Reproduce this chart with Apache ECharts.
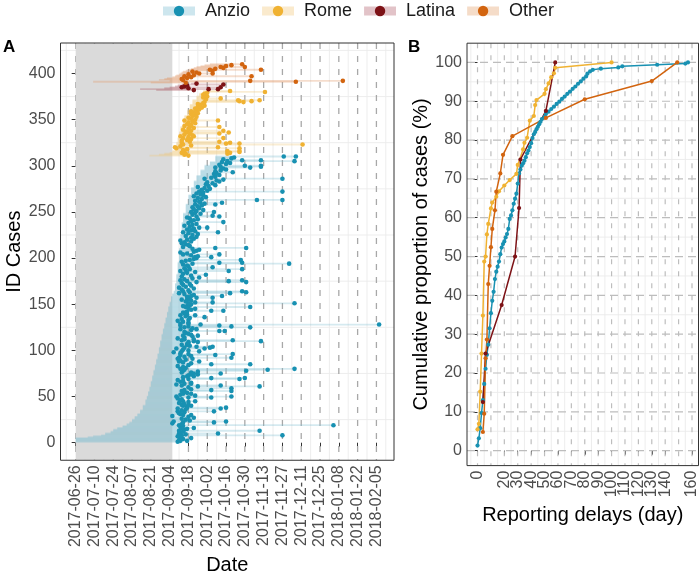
<!DOCTYPE html>
<html>
<head>
<meta charset="utf-8">
<script src="https://cdn.jsdelivr.net/npm/echarts@6.0.0/dist/echarts.min.js"></script>
<style>
html,body{margin:0;padding:0;background:#ffffff;}
#chart{width:700px;height:580px;}
</style>
</head>
<body>
<div id="chart"></div>
<script>
// ================= DATA =================
// Panel A: days counted from dateOrigin
const dateOrigin = '2017-06-26';
const dateTickLabels = ['2017-06-26','2017-07-10','2017-07-24','2017-08-07','2017-08-21','2017-09-04','2017-09-18','2017-10-02','2017-10-16','2017-10-30','2017-11-13','2017-11-27','2017-12-11','2017-12-25','2018-01-08','2018-01-22','2018-02-05'];
const caseTickLabels = [0,50,100,150,200,250,300,350,400];
const shadedPeriod = ['2017-06-26','2017-09-06'];

// Anzio: symptom-onset day histogram (day offset, number of cases)
const anzioOnsetDay = [0,9,13,19,22,26,28,31,35,38,40,42,44,46,48,50,52,53,54,55,56,57,58,59,60,61,62,63,64,65,66,67,68,69,70,71,72,73,74,75,76,77,78,79,80,82,84,86,88,90,93,96,100,104];
const anzioOnsetCount = [5,1,1,1,2,2,2,2,2,2,2,3,3,3,4,5,6,4,5,5,6,6,6,6,6,6,7,7,7,6,6,6,6,6,5,6,3,3,8,10,13,15,15,13,10,10,10,8,7,6,6,5,4,6];
// Anzio: first and second dot day per case (0 = none)
const anzioDot1 = [
76,78,77,80,79,78,76,79,82,77, 78,80,77,81,83,79,78,80,77,79, 72,80,73,85,82,79,88,84,72,80,
78,77,81,76,79,82,76,83,83,80, 79,81,77,84,80,78,79,76,84,75, 89,78,80,83,81,79,81,86,116,84,
91,79,75,81,86,78,80,76,84,101, 80,83,84,86,88,79,91,80,81,78, 82,80,76,84,101,86,80,77,78,82,
76,77,81,86,78,84,78,73,79,84, 80,75,81,90,85,79,83,84,84,88, 79,81,76,81,87,80,86,84,82,81,
107,86,78,87,81,84,78,93,78,84, 80,76,84,79,85,96,82,78,83,81, 80,83,101,86,89,84,82,80,85,86,
84,89,82,86,79,85,90,83,86,88, 81,77,85,80,84,79,88,77,82,86, 80,85,79,90,83,78,81,87,92,79,
86,97,80,83,89,78,82,85,81,102, 84,83,80,87,107,79,82,85,88,90, 89,91,86,80,83,78,88,90,92,87,
104,80,85,84,82,79,81,86,78,83, 88,86,90,82,87,91,84,80,89,86, 83,88,92,85,81,87,90,84,110,86,
88,91,85,83,90,102,87,93,89,86, 90,95,88,92,87,91,94,89,96,93, 92,89,135,94,91,97,88,95,93,90,
95,92,98,94,100,96,91,99,104,97, 102,98,107,105,110,96,101,104,104,107, 103,105,117,104,108,112,110,104,108,126,
107,112,115,109,113,124,110,116,118,155];
const anzioDot2 = [
0,83,0,0,86,0,0,154,0,106, 0,0,137,0,0,88,0,0,192,0, 0,103,112,0,0,0,0,0,0,86,
0,0,0,103,0,0,108,112,0,86, 84,0,0,0,89,0,0,0,101,116, 0,0,86,0,0,116,101,0,0,0,
137,108,0,86,0,0,0,0,122,126, 0,88,0,91,108,86,0,127,143,163, 0,0,0,0,130,0,0,92,0,0,
87,116,0,0,104,117,0,0,92,0, 0,96,100,102,0,83,0,0,91,138, 117,88,0,0,0,91,0,0,0,0,
111,0,90,0,130,116,107,226,84,0, 0,0,0,0,0,0,0,89,0,0, 82,0,110,0,0,0,130,83,0,0,
163,102,0,0,83,0,102,0,109,0, 0,115,127,124,0,0,0,0,0,0, 0,0,0,127,114,124,0,0,0,0,
0,0,0,0,0,114,0,124,0,0, 0,0,0,159,124,0,0,123,0,0, 101,0,0,107,0,0,0,0,0,0,
127,0,0,0,0,0,0,0,0,0, 0,0,0,0,0,0,0,106,0,0, 0,0,98,0,0,0,0,0,0,0,
0,0,0,0,107,0,0,0,0,103, 0,0,0,0,0,0,0,104,0,109, 0,0,154,0,0,0,0,0,0,0,
0,154,0,0,0,0,0,0,0,0, 0,0,0,0,0,154,0,0,0,0, 0,0,0,0,0,0,0,130,138,138,
0,0,0,0,163,138,0,0,0,164];

// Rome
const romeOnset = [55,62,66,70,72,72,74,74,74,74, 75,75,75,75,75,76,76,76,76,76, 77,77,77,77,77,77,78,78,78,78,
78,78,80,80,80,80,80,80,81,81, 81,81,81,81,83,83,83,83,83,83, 85,85,85,85,85,85,87,87,87,87, 87,90,90,90,90,92,92,92,95,95,95];
const romeDot1 = [84,81,82,79,81,113,80,83,75,74, 78,86,80,112,79,85,79,83,86,80, 84,78,87,81,85,83,82,86,80,84,
88,85,81,86,83,89,84,87,81,89, 86,84,90,87,89,86,91,88,86,90, 92,89,94,91,96,93,91,95,96,122, 121,97,108,95,98,97,95,96,98,141,115];
const romeDot2 = [0,0,113,115,122,122,0,0,122,106, 0,0,169,122,115,107,0,0,0,110, 0,88,0,0,107,114,0,110,0,0,
0,107,0,0,0,0,0,0,106,0, 0,0,0,0,0,0,0,0,0,0, 0,0,0,0,0,0,0,0,125,131, 137,0,0,0,0,0,0,0,0,0,0];

// Latina
const latinaOnset = [60,48,66,70,74,76,79,86];
const latinaDot1 = [88,99,84,79,81,83,110,90];
const latinaDot2 = [0,106,0,108,0,0,0,0];

// Other
const otherOnset = [56,13,70,62,66,68,72,74,75,77,78,79,80,82,84,86,88,90,93,96,100];
const otherDot1 = [82,164,130,80,79,83,86,81,88,84,92,90,87,102,100,104,110,108,112,116,124];
const otherDot2 = [0,0,199,0,0,0,0,131,0,0,102,0,0,0,138,0,0,126,0,0,0];

// Panel B: cumulative proportion (%) by reporting delay (days)
const delayTickLabels = [0,10,20,30,40,50,60,70,80,90,100,110,120,130,140,150,160];
const pctTickLabels = [0,10,20,30,40,50,60,70,80,90,100];
const anzioDelay = [0,1,2,3,4,5,6,7,8,9,10,11,12,13,14,15,16,17,18,19,20,21,22,23,24,25,26,27,28,29,30,31,32,33,34,35,36,37,38,39,40,41,42,43,44,45,46,47,48,50,51,53,55,57,59,61,63,65,67,69,71,73,75,77,79,81,82,84,86,92,105,108,134,155,157];
const anzioCum = [1.3,3.2,5.8,9.7,13.0,17.2,21.1,24.7,27.3,31.5,35.4,38.6,40.9,44.2,46.1,47.4,48.7,50.6,52.3,53.2,53.9,54.9,55.8,57.1,59.7,60.6,61.9,63.6,64.9,66.2,68.8,71.4,72.4,73.4,74.0,74.7,75.6,76.6,77.3,78.2,79.2,80.5,81.5,82.1,82.8,83.4,84.1,84.7,85.4,86.0,86.7,87.3,88.0,88.6,89.3,89.9,90.6,91.2,91.9,92.5,93.2,93.8,94.5,95.1,95.8,96.4,97.1,97.7,98.1,98.4,98.7,99.0,99.4,99.7,100];
const romeDelay = [0,1,2,3,4,5,6,7,8,10,11,14,16,20,24,29,30,34,35,37,39,42,43,44,50,51,53,55,57,58,100];
const romeCum = [5.5,6.9,15.2,25.0,34.8,48.7,50.0,55.7,58.4,62.4,63.9,65.4,66.8,68.3,69.7,71.3,73.6,77.6,79.3,80.6,85.0,86.2,89.0,90.3,91.9,93.1,94.6,96.2,97.2,98.6,100];
const latinaDelay = [4,6,18,28,31,32,51,58];
const latinaCum = [12.5,25,37.5,50,62.5,75,87.5,100];
const otherDelay = [4,5,6,7,8,9,10,11,13,14,17,19,26,51,80,130,149];
const otherCum = [4.8,9.5,23.8,28.6,42.9,47.6,52.4,57.1,61.9,66.7,71.4,76.2,81.0,85.7,90.5,95.2,100];

// ================= BUILD =================
const FONT = 'Liberation Sans, Arial, Helvetica, sans-serif';
const DAY = 86400000;
const toDay = s => Math.round((Date.parse(s) - Date.parse(dateOrigin)) / DAY);
const tickDays = dateTickLabels.map(toDay);
const minorDays = [-7].concat(tickDays.map(d => d + 7));
const caseMinor = caseTickLabels.map(v => v + 25);
const delayMinor = [-5].concat(delayTickLabels.slice(0, -1).map(v => v + 5));
const pctMinor = pctTickLabels.slice(0, -1).map(v => v + 5);

function expand(days, counts) {
  const out = [];
  days.forEach((d, i) => { for (let k = 0; k < counts[i]; k++) out.push(d); });
  return out;
}

const groups = [
  {name:'Anzio',  onset: expand(anzioOnsetDay, anzioOnsetCount), d1: anzioDot1, d2: anzioDot2,
   delay: anzioDelay, cum: anzioCum, dot:'#1891b2', bar:'rgba(124,190,207,0.32)', pale:'#cde6ee'},
  {name:'Rome',   onset: romeOnset, d1: romeDot1, d2: romeDot2,
   delay: romeDelay, cum: romeCum, dot:'#f0b232', bar:'rgba(240,200,120,0.32)', pale:'#faeacd'},
  {name:'Latina', onset: latinaOnset, d1: latinaDot1, d2: latinaDot2,
   delay: latinaDelay, cum: latinaCum, dot:'#7d1216', bar:'rgba(170,90,100,0.32)', pale:'#e2c3c8'},
  {name:'Other',  onset: otherOnset, d1: otherDot1, d2: otherDot2,
   delay: otherDelay, cum: otherCum, dot:'#d2640f', bar:'rgba(225,150,100,0.32)', pale:'#f5dcc8'}
];

let caseId = 0;
groups.forEach(g => {
  g.bars = []; g.dots = [];
  g.onset.forEach((o, i) => {
    caseId++;
    const end = Math.max(g.d1[i], g.d2[i] || 0);
    g.bars.push([o, end, caseId]);
    g.dots.push([g.d1[i], caseId]);
    if (g.d2[i]) g.dots.push([g.d2[i], caseId]);
  });
});

function vLines(idx, values, style, z) {
  return {type:'custom', xAxisIndex: idx, yAxisIndex: idx, silent: true, z, clip: true,
    data: values.map(v => [v, 0]), encode: {x: 0, y: 1},
    renderItem: (p, api) => {
      const cs = p.coordSys; const x = api.coord([api.value(0), 0])[0];
      return {type:'line', shape:{x1:x, y1:cs.y, x2:x, y2:cs.y + cs.height}, style: Object.assign({fill:null}, style)};
    }};
}
function hLines(idx, values, style, z) {
  return {type:'custom', xAxisIndex: idx, yAxisIndex: idx, silent: true, z, clip: true,
    data: values.map(v => [0, v]), encode: {x: 0, y: 1},
    renderItem: (p, api) => {
      const cs = p.coordSys; const y = api.coord([0, api.value(1)])[1];
      return {type:'line', shape:{x1:cs.x, y1:y, x2:cs.x + cs.width, y2:y}, style: Object.assign({fill:null}, style)};
    }};
}

function keyIcon(pale, dot) {
  const svg = '<svg xmlns="http://www.w3.org/2000/svg" width="32" height="13">' +
    '<rect x="0" y="2" width="32" height="9" fill="' + pale + '"/>' +
    '<circle cx="16" cy="6.5" r="5.2" fill="' + dot + '"/></svg>';
  return 'image://data:image/svg+xml;charset=utf-8,' + encodeURIComponent(svg);
}

const series = [];
// Panel A grid lines
series.push(vLines(0, minorDays, {stroke:'#ebebeb', lineWidth:0.9}, 1));
series.push(hLines(0, caseMinor, {stroke:'#ebebeb', lineWidth:0.9}, 1));
series.push(vLines(0, tickDays, {stroke:'#a8a8a8', lineWidth:1.3, lineDash:[6,7]}, 1));
// shaded period
series.push({type:'custom', xAxisIndex:0, yAxisIndex:0, silent:true, z:2, clip:true,
  data: [[toDay(shadedPeriod[0]), toDay(shadedPeriod[1]), 0]], encode:{x:[0,1], y:2},
  renderItem: (p, api) => {
    const cs = p.coordSys;
    const x0 = api.coord([api.value(0), 0])[0], x1 = api.coord([api.value(1), 0])[0];
    return {type:'rect', shape:{x:x0, y:cs.y + 0.5, width:x1 - x0, height:cs.height - 1}, style:{fill:'#dadada'}};
  }});
// case bars
groups.forEach(g => {
  series.push({type:'custom', name:g.name, xAxisIndex:0, yAxisIndex:0, silent:true, z:3, clip:true,
    data: g.bars, encode:{x:[0,1], y:2},
    renderItem: (p, api) => {
      const a = api.coord([api.value(0), api.value(2)]);
      const b = api.coord([api.value(1), api.value(2)]);
      const h = api.size([0, 2])[1];
      return {type:'rect', shape:{x:a[0], y:a[1] - h / 2, width:Math.max(b[0] - a[0], 1), height:h}, style:{fill:g.bar}};
    }});
});
// dots
groups.forEach(g => {
  series.push({type:'scatter', name:g.name, xAxisIndex:0, yAxisIndex:0, z:4, silent:true,
    data: g.dots, symbol:'circle', symbolSize:4.6, itemStyle:{color:g.dot, opacity:1}});
});
// Panel B grid lines
series.push(vLines(1, delayMinor, {stroke:'#ebebeb', lineWidth:0.9}, 1));
series.push(hLines(1, pctMinor, {stroke:'#ebebeb', lineWidth:0.9}, 1));
series.push(hLines(1, pctTickLabels, {stroke:'#bdbdbd', lineWidth:1.2, lineDash:[8,5]}, 1));
series.push(vLines(1, delayTickLabels, {stroke:'#bdbdbd', lineWidth:1.2, lineDash:[5,7]}, 1));
// ECDF lines
groups.forEach(g => {
  series.push({type:'line', name:g.name, xAxisIndex:1, yAxisIndex:1, z:4, silent:true,
    data: g.delay.map((d, i) => [d, g.cum[i]]), symbol:'circle', symbolSize:4.2, showSymbol:true,
    lineStyle:{color:g.dot, width:1.5}, itemStyle:{color:g.dot}});
});

const axisLabelStyle = {fontSize:16, color:'#4d4d4d', fontFamily:FONT, showMinLabel:true, showMaxLabel:true, hideOverlap:false};
const nameStyle = {fontSize:20, color:'#000000', fontFamily:FONT};
const tickStyle = {show:true, length:4, lineStyle:{color:'#333333', width:1}};

const option = {
  animation: false,
  backgroundColor: '#ffffff',
  textStyle: {fontFamily: FONT},
  legend: {
    left: 163, top: 2, padding: 0, itemGap: 12, itemWidth: 32, itemHeight: 13,
    selectedMode: false,
    textStyle: {fontSize: 18, color: '#1a1a1a', fontFamily: FONT, padding: [0, 0, 0, 5]},
    data: groups.map(g => ({name: g.name, icon: keyIcon(g.pale, g.dot)}))
  },
  graphic: [
    {type:'text', left: 3, top: 39, style:{text:'A', font:'bold 17px ' + FONT, fill:'#000'}},
    {type:'text', left: 408, top: 39, style:{text:'B', font:'bold 17px ' + FONT, fill:'#000'}}
  ],
  grid: [
    {left: 60.5, top: 43, width: 333.5, height: 421.5, show: true, borderColor: '#333333', borderWidth: 1, backgroundColor: 'transparent', z: 10},
    {left: 467, top: 43.2, width: 232, height: 422.4, show: true, borderColor: '#333333', borderWidth: 1, backgroundColor: 'transparent', z: 10}
  ],
  xAxis: [
    {gridIndex: 0, type: 'value', min: -11.3, max: 237.1,
     axisLine: {show: false}, splitLine: {show: false},
     axisTick: Object.assign({customValues: tickDays}, tickStyle),
     axisLabel: Object.assign({customValues: tickDays, rotate: 90, margin: 5,
       formatter: v => { const i = tickDays.indexOf(Math.round(v)); return i >= 0 ? dateTickLabels[i] : ''; }}, axisLabelStyle),
     name: 'Date', nameLocation: 'middle', nameGap: 93, nameTextStyle: nameStyle},
    {gridIndex: 1, type: 'value', min: -7.85, max: 164.85,
     axisLine: {show: false}, splitLine: {show: false},
     axisTick: Object.assign({customValues: delayTickLabels}, tickStyle),
     axisLabel: Object.assign({customValues: delayTickLabels, rotate: 90, margin: 5,
       formatter: v => String(v)}, axisLabelStyle),
     name: 'Reporting delays (day)', nameLocation: 'middle', nameGap: 38, nameTextStyle: nameStyle}
  ],
  yAxis: [
    {gridIndex: 0, type: 'value', min: -19, max: 433,
     axisLine: {show: false}, splitLine: {show: false},
     axisTick: Object.assign({customValues: caseTickLabels}, tickStyle),
     axisLabel: Object.assign({customValues: caseTickLabels, margin: 5}, axisLabelStyle),
     name: 'ID Cases', nameLocation: 'middle', nameGap: 27, nameTextStyle: nameStyle},
    {gridIndex: 1, type: 'value', min: -3.85, max: 104.95,
     axisLine: {show: false}, splitLine: {show: false},
     axisTick: Object.assign({customValues: pctTickLabels}, tickStyle),
     axisLabel: Object.assign({customValues: pctTickLabels, margin: 5}, axisLabelStyle),
     name: 'Cumulative proportion of cases (%)', nameLocation: 'middle', nameGap: 36, nameTextStyle: nameStyle}
  ],
  series: series
};

const chart = echarts.init(document.getElementById('chart'), null, {renderer: 'canvas'});
chart.setOption(option);
</script>
</body>
</html>
